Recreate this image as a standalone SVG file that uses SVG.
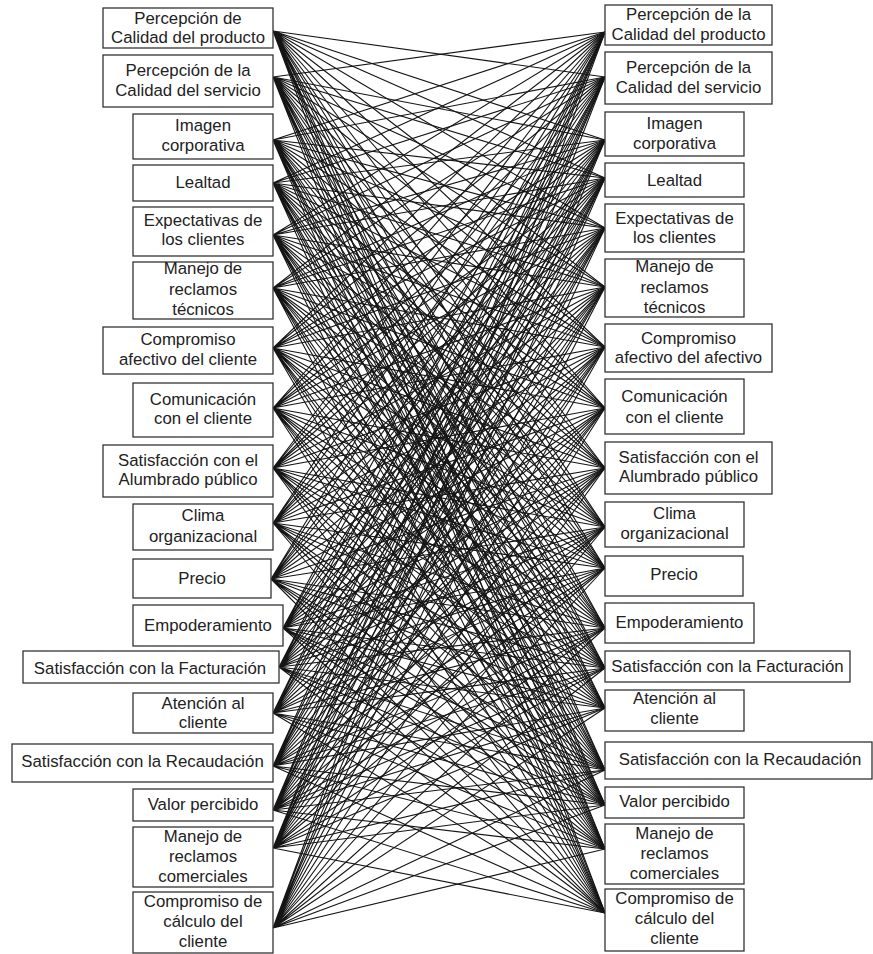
<svg xmlns="http://www.w3.org/2000/svg" width="873" height="954" viewBox="0 0 873 954">
<style>
  .box rect { fill: #fff; stroke: #333; stroke-width: 1.3; }
  .box text { font-family: "Liberation Sans", Arial, sans-serif; font-size: 16.8px; fill: #222; text-anchor: middle; }
  #links path { fill: none; stroke: #151515; stroke-width: 1.1; }
</style>
<rect width="873" height="954" fill="#fff"/>
<!-- every left factor links to every right factor except its own counterpart -->
<g id="links">
  <path d="M273 31L605 77M273 31L605 140M273 31L605 178M273 31L605 228M273 31L605 287M273 31L605 347M273 31L605 408M273 31L605 468M273 31L605 527M273 31L605 568M273 31L605 628M273 31L605 668M273 31L605 708M273 31L605 770M273 31L605 805M273 31L605 849M273 31L605 913"/>
  <path d="M273 77L605 32M273 77L605 140M273 77L605 178M273 77L605 228M273 77L605 287M273 77L605 347M273 77L605 408M273 77L605 468M273 77L605 527M273 77L605 568M273 77L605 628M273 77L605 668M273 77L605 708M273 77L605 770M273 77L605 805M273 77L605 849M273 77L605 913"/>
  <path d="M273 140L605 32M273 140L605 77M273 140L605 178M273 140L605 228M273 140L605 287M273 140L605 347M273 140L605 408M273 140L605 468M273 140L605 527M273 140L605 568M273 140L605 628M273 140L605 668M273 140L605 708M273 140L605 770M273 140L605 805M273 140L605 849M273 140L605 913"/>
  <path d="M273 183L605 32M273 183L605 77M273 183L605 140M273 183L605 228M273 183L605 287M273 183L605 347M273 183L605 408M273 183L605 468M273 183L605 527M273 183L605 568M273 183L605 628M273 183L605 668M273 183L605 708M273 183L605 770M273 183L605 805M273 183L605 849M273 183L605 913"/>
  <path d="M273 235L605 32M273 235L605 77M273 235L605 140M273 235L605 178M273 235L605 287M273 235L605 347M273 235L605 408M273 235L605 468M273 235L605 527M273 235L605 568M273 235L605 628M273 235L605 668M273 235L605 708M273 235L605 770M273 235L605 805M273 235L605 849M273 235L605 913"/>
  <path d="M273 288L605 32M273 288L605 77M273 288L605 140M273 288L605 178M273 288L605 228M273 288L605 347M273 288L605 408M273 288L605 468M273 288L605 527M273 288L605 568M273 288L605 628M273 288L605 668M273 288L605 708M273 288L605 770M273 288L605 805M273 288L605 849M273 288L605 913"/>
  <path d="M273 348L605 32M273 348L605 77M273 348L605 140M273 348L605 178M273 348L605 228M273 348L605 287M273 348L605 408M273 348L605 468M273 348L605 527M273 348L605 568M273 348L605 628M273 348L605 668M273 348L605 708M273 348L605 770M273 348L605 805M273 348L605 849M273 348L605 913"/>
  <path d="M273 408L605 32M273 408L605 77M273 408L605 140M273 408L605 178M273 408L605 228M273 408L605 287M273 408L605 347M273 408L605 468M273 408L605 527M273 408L605 568M273 408L605 628M273 408L605 668M273 408L605 708M273 408L605 770M273 408L605 805M273 408L605 849M273 408L605 913"/>
  <path d="M273 468L605 32M273 468L605 77M273 468L605 140M273 468L605 178M273 468L605 228M273 468L605 287M273 468L605 347M273 468L605 408M273 468L605 527M273 468L605 568M273 468L605 628M273 468L605 668M273 468L605 708M273 468L605 770M273 468L605 805M273 468L605 849M273 468L605 913"/>
  <path d="M273 523L605 32M273 523L605 77M273 523L605 140M273 523L605 178M273 523L605 228M273 523L605 287M273 523L605 347M273 523L605 408M273 523L605 468M273 523L605 568M273 523L605 628M273 523L605 668M273 523L605 708M273 523L605 770M273 523L605 805M273 523L605 849M273 523L605 913"/>
  <path d="M271 579L605 32M271 579L605 77M271 579L605 140M271 579L605 178M271 579L605 228M271 579L605 287M271 579L605 347M271 579L605 408M271 579L605 468M271 579L605 527M271 579L605 628M271 579L605 668M271 579L605 708M271 579L605 770M271 579L605 805M271 579L605 849M271 579L605 913"/>
  <path d="M283 628L605 32M283 628L605 77M283 628L605 140M283 628L605 178M283 628L605 228M283 628L605 287M283 628L605 347M283 628L605 408M283 628L605 468M283 628L605 527M283 628L605 568M283 628L605 668M283 628L605 708M283 628L605 770M283 628L605 805M283 628L605 849M283 628L605 913"/>
  <path d="M279 667L605 32M279 667L605 77M279 667L605 140M279 667L605 178M279 667L605 228M279 667L605 287M279 667L605 347M279 667L605 408M279 667L605 468M279 667L605 527M279 667L605 568M279 667L605 628M279 667L605 708M279 667L605 770M279 667L605 805M279 667L605 849M279 667L605 913"/>
  <path d="M273 713L605 32M273 713L605 77M273 713L605 140M273 713L605 178M273 713L605 228M273 713L605 287M273 713L605 347M273 713L605 408M273 713L605 468M273 713L605 527M273 713L605 568M273 713L605 628M273 713L605 668M273 713L605 770M273 713L605 805M273 713L605 849M273 713L605 913"/>
  <path d="M273 766L605 32M273 766L605 77M273 766L605 140M273 766L605 178M273 766L605 228M273 766L605 287M273 766L605 347M273 766L605 408M273 766L605 468M273 766L605 527M273 766L605 568M273 766L605 628M273 766L605 668M273 766L605 708M273 766L605 805M273 766L605 849M273 766L605 913"/>
  <path d="M273 810L605 32M273 810L605 77M273 810L605 140M273 810L605 178M273 810L605 228M273 810L605 287M273 810L605 347M273 810L605 408M273 810L605 468M273 810L605 527M273 810L605 568M273 810L605 628M273 810L605 668M273 810L605 708M273 810L605 770M273 810L605 849M273 810L605 913"/>
  <path d="M273 848L605 32M273 848L605 77M273 848L605 140M273 848L605 178M273 848L605 228M273 848L605 287M273 848L605 347M273 848L605 408M273 848L605 468M273 848L605 527M273 848L605 568M273 848L605 628M273 848L605 668M273 848L605 708M273 848L605 770M273 848L605 805M273 848L605 913"/>
  <path d="M273 928L605 32M273 928L605 77M273 928L605 140M273 928L605 178M273 928L605 228M273 928L605 287M273 928L605 347M273 928L605 408M273 928L605 468M273 928L605 527M273 928L605 568M273 928L605 628M273 928L605 668M273 928L605 708M273 928L605 770M273 928L605 805M273 928L605 849"/>
</g>

<!-- left column -->
<g id="l1" class="box"><rect x="103" y="8" width="170" height="40"/><text x="188"><tspan x="188" y="24">Percepción de</tspan><tspan x="188" y="43">Calidad del producto</tspan></text></g>
<g id="l2" class="box"><rect x="103" y="55" width="170" height="52"/><text x="188"><tspan x="188" y="76">Percepción de la</tspan><tspan x="188" y="95.5">Calidad del servicio</tspan></text></g>
<g id="l3" class="box"><rect x="133" y="114" width="140" height="45"/><text x="203"><tspan x="203" y="131">Imagen</tspan><tspan x="203" y="151">corporativa</tspan></text></g>
<g id="l4" class="box"><rect x="133" y="165" width="140" height="36"/><text x="203" y="188">Lealtad</text></g>
<g id="l5" class="box"><rect x="133" y="207" width="140" height="49"/><text x="203"><tspan x="203" y="225.5">Expectativas de</tspan><tspan x="203" y="245">los clientes</tspan></text></g>
<g id="l6" class="box"><rect x="133" y="262" width="140" height="57"/><text x="203"><tspan x="203" y="273.5">Manejo de</tspan><tspan x="203" y="294.5">reclamos</tspan><tspan x="203" y="315">técnicos</tspan></text></g>
<g id="l7" class="box"><rect x="103" y="327" width="170" height="47"/><text x="188"><tspan x="188" y="345">Compromiso</tspan><tspan x="188" y="364.5">afectivo del cliente</tspan></text></g>
<g id="l8" class="box"><rect x="133" y="383" width="140" height="54"/><text x="203"><tspan x="203" y="405">Comunicación</tspan><tspan x="203" y="424">con el cliente</tspan></text></g>
<g id="l9" class="box"><rect x="103" y="445" width="170" height="52"/><text x="188"><tspan x="188" y="466">Satisfacción con el</tspan><tspan x="188" y="485">Alumbrado público</tspan></text></g>
<g id="l10" class="box"><rect x="133" y="504" width="140" height="46"/><text x="203"><tspan x="203" y="521">Clima</tspan><tspan x="203" y="541.5">organizacional</tspan></text></g>
<g id="l11" class="box"><rect x="133" y="559" width="138" height="39"/><text x="202" y="583.5">Precio</text></g>
<g id="l12" class="box"><rect x="133" y="605" width="150" height="41"/><text x="208" y="631">Empoderamiento</text></g>
<g id="l13" class="box"><rect x="23" y="651" width="256" height="32"/><text x="150" y="674">Satisfacción con la Facturación</text></g>
<g id="l14" class="box"><rect x="133" y="693" width="140" height="40"/><text x="203"><tspan x="203" y="708.5">Atención al</tspan><tspan x="203" y="727.5">cliente</tspan></text></g>
<g id="l15" class="box"><rect x="12" y="744" width="261" height="38"/><text x="142.5" y="767">Satisfacción con la Recaudación</text></g>
<g id="l16" class="box"><rect x="133" y="789" width="140" height="32"/><text x="203" y="809.5">Valor percibido</text></g>
<g id="l17" class="box"><rect x="133" y="827" width="140" height="60"/><text x="203"><tspan x="203" y="842">Manejo de</tspan><tspan x="203" y="862">reclamos</tspan><tspan x="203" y="882">comerciales</tspan></text></g>
<g id="l18" class="box"><rect x="133" y="892" width="140" height="61"/><text x="203"><tspan x="203" y="907">Compromiso de</tspan><tspan x="203" y="927">cálculo del</tspan><tspan x="203" y="947">cliente</tspan></text></g>

<!-- right column -->
<g id="r1" class="box"><rect x="605" y="5" width="167" height="40"/><text x="688.5"><tspan x="688.5" y="19.5">Percepción de la</tspan><tspan x="688.5" y="39.5">Calidad del producto</tspan></text></g>
<g id="r2" class="box"><rect x="605" y="52" width="167" height="52"/><text x="688.5"><tspan x="688.5" y="72.5">Percepción de la</tspan><tspan x="688.5" y="92.5">Calidad del servicio</tspan></text></g>
<g id="r3" class="box"><rect x="605" y="112" width="139" height="44"/><text x="674.5"><tspan x="674.5" y="128.5">Imagen</tspan><tspan x="674.5" y="148.5">corporativa</tspan></text></g>
<g id="r4" class="box"><rect x="605" y="163" width="139" height="34"/><text x="674.5" y="186">Lealtad</text></g>
<g id="r5" class="box"><rect x="605" y="204" width="139" height="48"/><text x="674.5"><tspan x="674.5" y="223.5">Expectativas de</tspan><tspan x="674.5" y="242.5">los clientes</tspan></text></g>
<g id="r6" class="box"><rect x="605" y="259" width="139" height="58"/><text x="674.5"><tspan x="674.5" y="272">Manejo de</tspan><tspan x="674.5" y="292.5">reclamos</tspan><tspan x="674.5" y="312.5">técnicos</tspan></text></g>
<g id="r7" class="box"><rect x="605" y="324" width="167" height="48"/><text x="688.5"><tspan x="688.5" y="343.5">Compromiso</tspan><tspan x="688.5" y="362.5">afectivo del afectivo</tspan></text></g>
<g id="r8" class="box"><rect x="605" y="379" width="139" height="55"/><text x="674.5"><tspan x="674.5" y="402">Comunicación</tspan><tspan x="674.5" y="422.5">con el cliente</tspan></text></g>
<g id="r9" class="box"><rect x="605" y="442" width="167" height="52"/><text x="688.5"><tspan x="688.5" y="463">Satisfacción con el</tspan><tspan x="688.5" y="482">Alumbrado público</tspan></text></g>
<g id="r10" class="box"><rect x="605" y="502" width="139" height="45"/><text x="674.5"><tspan x="674.5" y="518.5">Clima</tspan><tspan x="674.5" y="538.5">organizacional</tspan></text></g>
<g id="r11" class="box"><rect x="605" y="556" width="138" height="40"/><text x="674" y="580">Precio</text></g>
<g id="r12" class="box"><rect x="605" y="603" width="149" height="40"/><text x="679.5" y="627.5">Empoderamiento</text></g>
<g id="r13" class="box"><rect x="605" y="651" width="245" height="31"/><text x="727.5" y="672">Satisfacción con la Facturación</text></g>
<g id="r14" class="box"><rect x="605" y="690" width="139" height="41"/><text x="674.5"><tspan x="674.5" y="703.5">Atención al</tspan><tspan x="674.5" y="723.5">cliente</tspan></text></g>
<g id="r15" class="box"><rect x="605" y="742" width="267" height="37"/><text x="740" y="765">Satisfacción con la Recaudación</text></g>
<g id="r16" class="box"><rect x="605" y="787" width="139" height="31"/><text x="674.5" y="807">Valor percibido</text></g>
<g id="r17" class="box"><rect x="605" y="824" width="139" height="60"/><text x="674.5"><tspan x="674.5" y="838.5">Manejo de</tspan><tspan x="674.5" y="859">reclamos</tspan><tspan x="674.5" y="878.5">comerciales</tspan></text></g>
<g id="r18" class="box"><rect x="605" y="889" width="139" height="62"/><text x="674.5"><tspan x="674.5" y="903.5">Compromiso de</tspan><tspan x="674.5" y="923.5">cálculo del</tspan><tspan x="674.5" y="943.5">cliente</tspan></text></g>
</svg>
